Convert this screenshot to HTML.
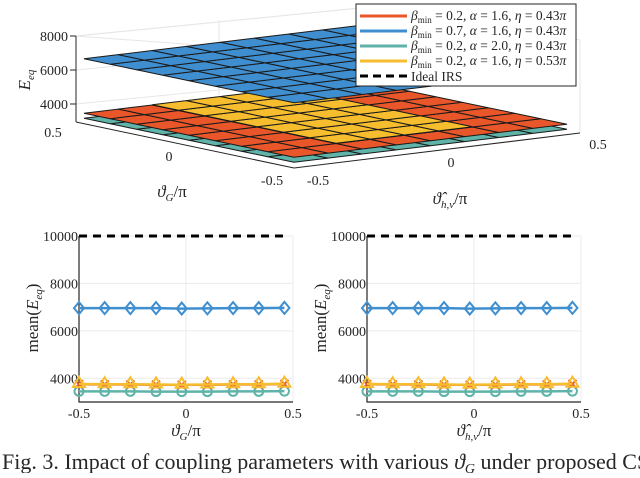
<!DOCTYPE html>
<html><head><meta charset="utf-8">
<style>
body{margin:0;background:#fff;}
svg text{font-family:"Liberation Serif",serif;fill:#262626;}
</style></head>
<body>
<svg id="fig" width="640" height="473" viewBox="0 0 640 473" xmlns="http://www.w3.org/2000/svg">
<g id="top3d"></g>
<g id="left2d"></g>
<g id="right2d"></g>
<text x="2" y="469" font-size="22">Fig. 3.  Impact of coupling parameters with various <tspan font-style="italic">ϑ</tspan><tspan font-size="14" dy="4" font-style="italic">G</tspan><tspan dy="-4"> under proposed CSI</tspan></text>
</svg>
<script>
const NS="http://www.w3.org/2000/svg";
// ---- data ----
const seriesNames=["bmin=0.2,a=1.6,eta=0.43pi","bmin=0.7,a=1.6,eta=0.43pi","bmin=0.2,a=2.0,eta=0.43pi","bmin=0.2,a=1.6,eta=0.53pi"];
const surfColors=["#E8562A","#3F8FD0","#5FB3A8","#F6BE2F"];
const xPoints=[-0.5,-0.38,-0.26,-0.14,-0.02,0.1,0.22,0.34,0.46];
const orangeVals=[3750,3740,3740,3730,3720,3730,3740,3740,3760];
const blueVals=[6960,6960,6960,6960,6940,6950,6960,6960,6970];
const tealVals=[3450,3450,3450,3440,3440,3440,3450,3450,3460];
const yellowVals=[3760,3750,3750,3740,3730,3740,3750,3750,3770];
const idealVal=10000;
const yTicks=[4000,6000,8000,10000];
const xTicks=[-0.5,0,0.5];
const xTickLabels=["-0.5","0","0.5"];
const surfLevels=[3750,6950,3450,3760];
const zTicks=[4000,6000,8000];
const gridN=8;

function el(tag,attrs,parent){const e=document.createElementNS(NS,tag);for(const k in attrs)e.setAttribute(k,attrs[k]);parent.appendChild(e);return e;}

// ---- 3D plot ----
const topG=document.getElementById('top3d');
const F=[294,164],GV=[-210,-44],HV=[273,-33],ZF=3350,ZS=34/2000;
function P(g,h,z){return [F[0]+(g+0.5)*GV[0]+(h+0.5)*HV[0],F[1]+(g+0.5)*GV[1]+(h+0.5)*HV[1]-(z-ZF)*ZS];}
[[76,36,76,122],[76,36,360,8],[360,8,580,40],[580,40,580,133],[219,20,219,95],[76,36,294,52]].forEach(function(l){
 const ln=el('line',{x1:l[0],y1:l[1],x2:l[2],y2:l[3],stroke:'#e6e6e6','stroke-width':1},topG);
 
 
});
zTicks.forEach(function(z){const yy=36+(8000-z)*ZS;
 const ln=el('line',{x1:76,y1:yy,x2:360,y2:yy-28,stroke:'#e6e6e6'},topG);
 
 const t=el('text',{x:68,y:yy+5,'font-size':14,'text-anchor':'end'},topG);t.textContent=z;
 
 const tk=el('line',{x1:70,y1:yy,x2:76,y2:yy,stroke:'#262626'},topG);
 
});
[[76,36,76,122],[76,122,294,168],[294,168,580,133]].forEach(function(l){
 const ln=el('line',{x1:l[0],y1:l[1],x2:l[2],y2:l[3],stroke:'#262626','stroke-width':1},topG);
 
});
function drawSurf(idx,cellFilter){
 const z=surfLevels[idx];
 for(let i=0;i<gridN;i++)for(let j=0;j<gridN;j++){
  if(cellFilter&&!cellFilter(i,j))continue;
  const g0=-0.5+i/gridN,g1=g0+1/gridN,h0=-0.5+j/gridN,h1=h0+1/gridN;
  const pts=[P(g0,h0,z),P(g1,h0,z),P(g1,h1,z),P(g0,h1,z)].map(p=>p.join(',')).join(' ');
  const c=el('polygon',{points:pts,fill:surfColors[idx],stroke:'#1a1a1a','stroke-width':1},topG);
  
  
 }
}
drawSurf(2,null);
drawSurf(0,null);
drawSurf(3,function(i,j){return j>=2 && j<=5 && i>=1;});
drawSurf(1,null);
[[53,137,"0.5"],[169,161,"0"],[272,185,"-0.5"],[318,185,"-0.5"],[451,167,"0"],[598,149,"0.5"]].forEach(function(t){
 const tx=el('text',{x:t[0],y:t[1],'font-size':14,'text-anchor':'middle'},topG);tx.textContent=t[2];
 
});
let lab=el('text',{x:172,y:197,'font-size':17,'text-anchor':'middle','font-style':'italic'},topG);
lab.innerHTML='ϑ<tspan font-size="11" dy="4">G</tspan><tspan dy="-4" font-style="normal">/π</tspan>';

lab=el('text',{x:450,y:204,'font-size':17,'text-anchor':'middle','font-style':'italic'},topG);
lab.innerHTML='ϑ̂<tspan font-size="11" dy="4">h,v</tspan><tspan dy="-4" font-style="normal">/π</tspan>';

lab=el('text',{x:0,y:0,'font-size':17,'font-style':'italic',transform:'translate(30,80) rotate(-90)','text-anchor':'middle'},topG);
lab.innerHTML='E<tspan font-size="11" dy="4">eq</tspan>';

const lg=el('g',{},topG);

el('rect',{x:356,y:4,width:220,height:82,fill:'#fff',stroke:'#262626','stroke-width':1},lg);
const legTexts=[['0.2','1.6','0.43'],['0.7','1.6','0.43'],['0.2','2.0','0.43'],['0.2','1.6','0.53']];
const legY=[16,31,46,61,76];
legTexts.forEach(function(v,i){
 const ln=el('line',{x1:360,y1:legY[i],x2:407,y2:legY[i],stroke:surfColors[i],'stroke-width':3},lg);
 
 const t=el('text',{x:411,y:legY[i]+4,'font-size':13.5},lg);
 t.innerHTML='<tspan font-style="italic">β</tspan><tspan font-size="9" dy="3">min</tspan><tspan dy="-3"> = '+v[0]+', </tspan><tspan font-style="italic">α</tspan> = '+v[1]+', <tspan font-style="italic">η</tspan> = '+v[2]+'<tspan font-style="italic">π</tspan>';
 
});
const dl=el('line',{x1:360,y1:legY[4],x2:407,y2:legY[4],stroke:'#000','stroke-width':3,'stroke-dasharray':'8,5'},lg);

const it=el('text',{x:411,y:legY[4]+5,'font-size':13.5},lg);it.textContent='Ideal IRS';


// ---- 2D plots ----
function plot2d(gid,x0,x1,xlabelHTML){
 const g=document.getElementById(gid);
 const yTop=236,yBot=402,yMin=3000,yMax=10000;
 const sx=v=>x0+(v+0.5)*(x1-x0);
 const sy=v=>yBot-(v-yMin)/(yMax-yMin)*(yBot-yTop);
 xTicks.forEach(function(v,k){const l=el('line',{x1:sx(v),y1:yTop,x2:sx(v),y2:yBot,stroke:'#ebebeb'},g);
  
  const t=el('text',{x:sx(v),y:418,'font-size':14,'text-anchor':'middle'},g);t.textContent=xTickLabels[k];
  });
 yTicks.forEach(function(v){const l=el('line',{x1:x0,y1:sy(v),x2:x1,y2:sy(v),stroke:'#ebebeb'},g);
  
  const t=el('text',{x:x0-1,y:sy(v)+5,'font-size':14,'text-anchor':'end'},g);t.textContent=v;
  });
 const ax=el('path',{d:'M'+x0+' '+yTop+' V'+yBot+' H'+x1,stroke:'#262626',fill:'none','stroke-width':1.2},g);
 
 const id=el('line',{x1:sx(xPoints[0]),y1:sy(idealVal),x2:sx(xPoints[8]),y2:sy(idealVal),stroke:'#000','stroke-width':3,'stroke-dasharray':'8,6'},g);
 
 const sets=[[tealVals,2,'circle'],[blueVals,1,'diamond'],[orangeVals,0,'star'],[yellowVals,3,'triangle']];
 sets.forEach(function(s){
  const vals=s[0],c=surfColors[s[1]];
  const pl=el('polyline',{points:xPoints.map((x,i)=>sx(x)+','+sy(vals[i])).join(' '),fill:'none',stroke:c,'stroke-width':2.5},g);
  
  xPoints.forEach(function(x,i){
   const X=sx(x),Y=sy(vals[i]);let m;
   if(s[2]==='circle')m=el('circle',{cx:X,cy:Y,r:4.5,fill:'none',stroke:c,'stroke-width':2},g);
   else if(s[2]==='diamond')m=el('polygon',{points:[X,Y-6,X+5,Y,X,Y+6,X-5,Y].join(' '),fill:'none',stroke:c,'stroke-width':2},g);
   else if(s[2]==='triangle')m=el('polygon',{points:[X,Y-7,X+6,Y+3,X-6,Y+3].join(' '),fill:'none',stroke:c,'stroke-width':2},g);
   else m=el('path',{d:'M'+(X-4)+' '+(Y-4)+'L'+(X+4)+' '+(Y+4)+'M'+(X+4)+' '+(Y-4)+'L'+(X-4)+' '+(Y+4),stroke:c,'stroke-width':2},g);
   
   
  });
 });
 const xl=el('text',{x:(x0+x1)/2,y:436,'font-size':17,'text-anchor':'middle','font-style':'italic'},g);xl.innerHTML=xlabelHTML;
 
 const yl=el('text',{x:0,y:0,'font-size':17,'text-anchor':'middle',transform:'translate('+(x0-41)+',318) rotate(-90)'},g);
 yl.innerHTML='mean(<tspan font-style="italic">E</tspan><tspan font-size="11" dy="4" font-style="italic">eq</tspan><tspan dy="-4">)</tspan>';
 
}
plot2d('left2d',79,293,'ϑ<tspan font-size="11" dy="4">G</tspan><tspan dy="-4" font-style="normal">/π</tspan>');
plot2d('right2d',367,581,'ϑ̂<tspan font-size="11" dy="4">h,v</tspan><tspan dy="-4" font-style="normal">/π</tspan>');
</script>
</body></html>
